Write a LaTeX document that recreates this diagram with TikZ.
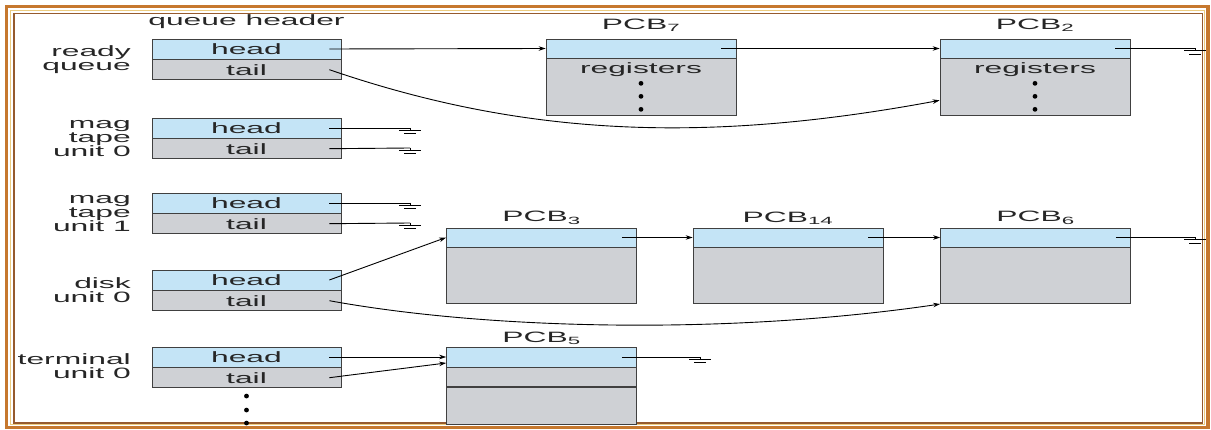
\documentclass[tikz,border=0pt]{standalone}
\usepackage{fontspec}
\setmainfont[FakeStretch=2.12]{Liberation Sans}
\usetikzlibrary{positioning,arrows.meta}
\definecolor{hdblue}{RGB}{196,228,246}
\definecolor{pcbgray}{RGB}{207,209,213}
\definecolor{frameor}{RGB}{198,120,46}
\definecolor{framelt}{RGB}{236,204,128}
\definecolor{framebr}{RGB}{150,90,45}
\tikzset{
  cell/.style={draw=black!75,line width=0.7pt,minimum width=189pt,minimum height=20pt,inner sep=0pt,font=\fontsize{15}{15}\selectfont,text=black!85},
  hd/.style={cell,fill=hdblue},
  tl/.style={cell,fill=pcbgray},
  pcbtop/.style={draw=black!75,line width=0.7pt,fill=hdblue,minimum width=190pt,minimum height=19pt,inner sep=0pt},
  pcbbody/.style={draw=black!75,line width=0.7pt,fill=pcbgray,minimum width=190pt,inner sep=0pt},
  qlabel/.style={align=right,anchor=east,inner sep=0pt,font=\fontsize{15}{14}\selectfont,text=black!85},
  pcblabel/.style={font=\fontsize{15}{15}\selectfont,text=black!85,inner sep=1pt},
  link/.style={->,line width=0.9pt},
  gnd/.pic={\draw[line width=1pt] (0,0)--(0,2.5) (-11,2.5)--(11,2.5) (-6,6)--(6,6);}
}
\begin{document}
\begin{tikzpicture}[x=1pt,y=-1pt,>={Stealth[length=7pt,width=4.5pt]}]
  \useasboundingbox (0,0) rectangle (1211,430);
  \draw[frameor,line width=3.5pt](6.5,6.5) rectangle (1208,427.5);
  \draw[framelt,line width=1.5pt](10.5,10.5) rectangle (1204.5,424.5);
  \draw[framebr,line width=1.5pt](14,13.5) rectangle (1202.5,423);
  % queue headers
  \node[pcblabel] (qh) at (246.5,22) {queue header};
  \node[hd] (rqh) at (246.5,49) {head};
  \node[tl,below=0pt of rqh] (rqt) {tail};
  \node[hd] (mt0h) at (246.5,128) {head};
  \node[tl,below=0pt of mt0h] (mt0t) {tail};
  \node[hd] (mt1h) at (246.5,203) {head};
  \node[tl,below=0pt of mt1h] (mt1t) {tail};
  \node[hd] (dkh) at (246.5,280) {head};
  \node[tl,below=0pt of dkh] (dkt) {tail};
  \node[hd] (tmh) at (246.5,357) {head};
  \node[tl,below=0pt of tmh] (tmt) {tail};
  \foreach \d in {8,22,35}
    \fill ([yshift=-\d pt]tmt.south) circle (2.4pt);
  \node[qlabel] (lrq) at (131,60) {ready\\queue};
  \node[qlabel] (lmt0) at (131,139) {mag\\tape\\unit 0};
  \node[qlabel] (lmt1) at (131,214) {mag\\tape\\unit 1};
  \node[qlabel] (ldk) at (131,290) {disk\\unit 0};
  \node[qlabel] (ltm) at (131,366) {terminal\\unit 0};
  % PCBs
  \node[pcbtop] (p7t) at (641,48.5) {};
  \node[pcbbody,minimum height=57pt,below=0pt of p7t] (p7b) {};
  \node[pcbtop] (p2t) at (1035,48.5) {};
  \node[pcbbody,minimum height=57pt,below=0pt of p2t] (p2b) {};
  \node[pcbtop] (p3t) at (541.5,237.5) {};
  \node[pcbbody,minimum height=56pt,below=0pt of p3t] (p3b) {};
  \node[pcbtop] (p14t) at (788,237.5) {};
  \node[pcbbody,minimum height=56pt,below=0pt of p14t] (p14b) {};
  \node[pcbtop] (p6t) at (1035.5,237.5) {};
  \node[pcbbody,minimum height=56pt,below=0pt of p6t] (p6b) {};
  \node[pcbtop,minimum height=20pt] (p5t) at (541.5,357) {};
  \node[pcbbody,minimum height=19pt,below=0pt of p5t] (p5m) {};
  \node[pcbbody,minimum height=37pt,below=0pt of p5m,line width=0.4pt] (p5b) {};
  \node[pcblabel,above=6pt of p7t] (n7) {PCB\textsubscript{7}};
  \node[pcblabel,above=6pt of p2t] (n2) {PCB\textsubscript{2}};
  \node[pcblabel,above=2pt of p3t] (n3) {PCB\textsubscript{3}};
  \node[pcblabel,above=2pt of p14t] (n14) {PCB\textsubscript{14}};
  \node[pcblabel,above=2pt of p6t] (n6) {PCB\textsubscript{6}};
  \node[pcblabel,above=1pt of p5t] (n5) {PCB\textsubscript{5}};
  \node[pcblabel] (r7) at ([yshift=-11pt]p7b.north) {registers};
  \node[pcblabel] (r2) at ([yshift=-11pt]p2b.north) {registers};
  \foreach \d in {14,27,40}{
    \fill ([yshift=-\d pt]r7.center) circle (2.4pt);
    \fill ([yshift=-\d pt]r2.center) circle (2.4pt);}
  % links
  \coordinate (gp2) at (1195,48.5);
  \coordinate (gm0h) at (410,128);
  \coordinate (gm0t) at (410,148);
  \coordinate (gm1h) at (410,203);
  \coordinate (gm1t) at (410,223);
  \coordinate (gp6) at (1195,237.5);
  \coordinate (gp5) at (700,357);
  \draw[link]([xshift=-12pt]rqh.east)--(p7t.west);
  \draw[link]([xshift=-12pt]rqt.east)..controls(520,135)and(700,145)..([yshift=-42pt]p2b.north west);
  \draw[link]([xshift=-15pt]p7t.east)--(p2t.west);
  \draw[line width=0.9pt]([xshift=-15pt]p2t.east)--(gp2) pic{gnd};
  \draw[line width=0.9pt]([xshift=-12pt]mt0h.east)--(gm0h) pic{gnd};
  \draw[line width=0.9pt]([xshift=-12pt]mt0t.east)--(gm0t) pic{gnd};
  \draw[line width=0.9pt]([xshift=-12pt]mt1h.east)--(gm1h) pic{gnd};
  \draw[line width=0.9pt]([xshift=-12pt]mt1t.east)--(gm1t) pic{gnd};
  \draw[link]([xshift=-12pt]dkh.east)--(p3t.west);
  \draw[link]([xshift=-12pt]dkt.east)..controls(490,330)and(730,335)..(p6b.south west);
  \draw[link]([xshift=-15pt]p3t.east)--(p14t.west);
  \draw[link]([xshift=-15pt]p14t.east)--(p6t.west);
  \draw[line width=0.9pt]([xshift=-15pt]p6t.east)--(gp6) pic{gnd};
  \draw[link,line width=0.6pt]([xshift=-12pt]tmh.east)--(p5t.west);
  \draw[link]([xshift=-12pt]tmt.east)--([yshift=-6pt]p5t.west);
  \draw[line width=0.6pt]([xshift=-15pt]p5t.east)--(gp5) pic{gnd};
\end{tikzpicture}
\end{document}
